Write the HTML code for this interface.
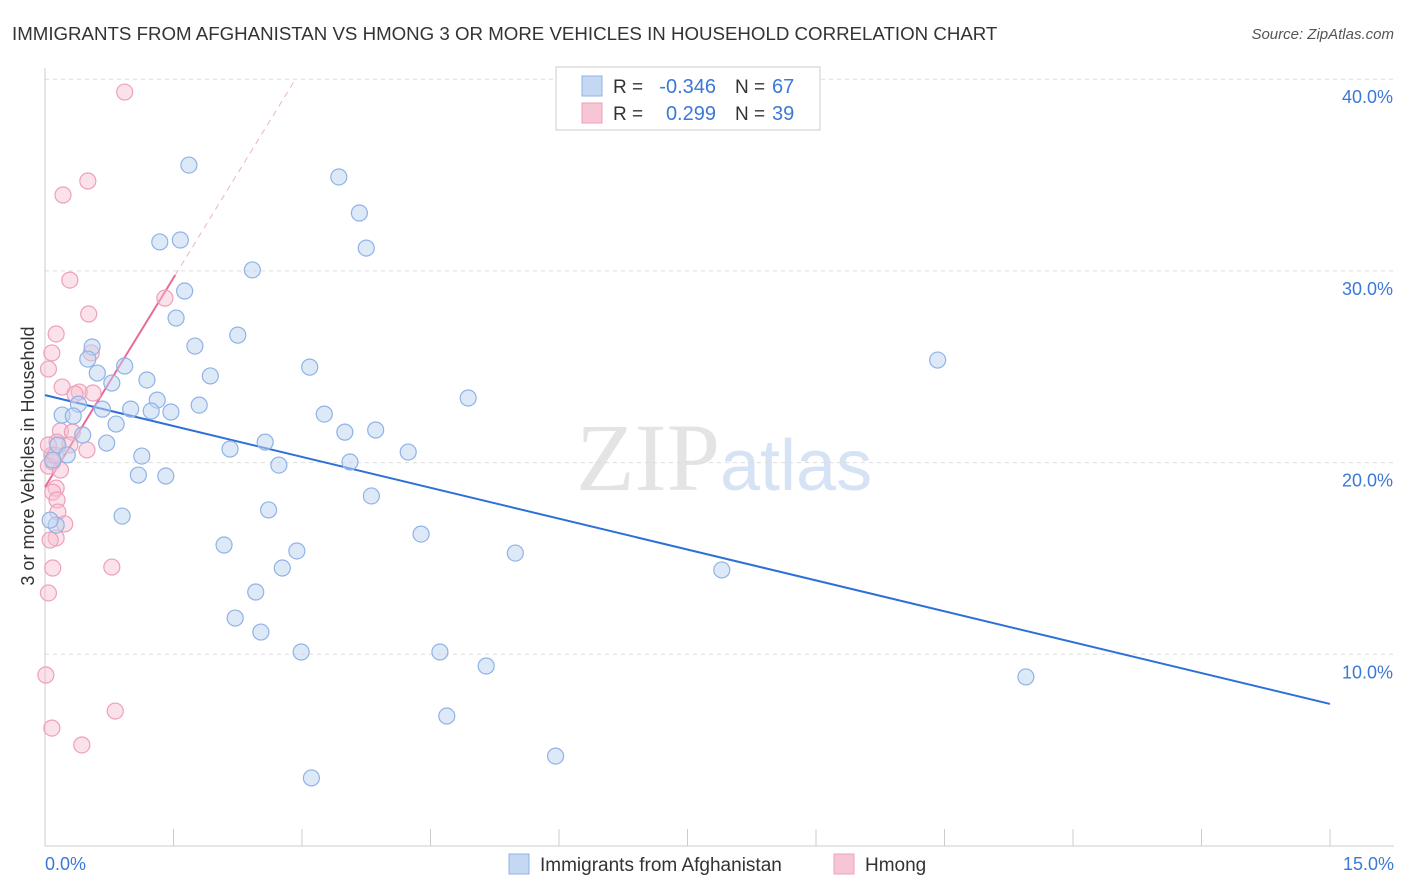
<!DOCTYPE html>
<html><head><meta charset="utf-8"><style>
body{margin:0;background:#fff;font-family:"Liberation Sans",sans-serif;}
svg{display:block}
</style></head><body>
<svg id="chart" width="1406" height="892" xmlns="http://www.w3.org/2000/svg">
<text x="12" y="40" font-size="18.7" fill="#333">IMMIGRANTS FROM AFGHANISTAN VS HMONG 3 OR MORE VEHICLES IN HOUSEHOLD CORRELATION CHART</text>
<text x="1394" y="39" font-size="15" fill="#555" text-anchor="end" font-style="italic">Source: ZipAtlas.com</text>
<text x="720" y="490" font-size="96" fill="#e4e4e4" text-anchor="end" font-family="Liberation Serif">ZIP</text>
<text x="720" y="490" font-size="72" fill="#d6e3f5">atlas</text>
<g id="grid"></g><g id="axes"></g><g id="trends"></g><g id="points"></g>
<text transform="translate(34,456) rotate(-90)" font-size="18" fill="#333" text-anchor="middle">3 or more Vehicles in Household</text>
<text x="45" y="870" font-size="18" fill="#3c78d8">0.0%</text>
<text x="1394" y="870" font-size="18" fill="#3c78d8" text-anchor="end">15.0%</text>
<g>
<rect x="556" y="67" width="264" height="63" fill="#fff" stroke="#ccc"/>
<rect x="582" y="76" width="20" height="20" fill="#c5d8f2" stroke="#8fb3e6"/>
<rect x="582" y="103" width="20" height="20" fill="#f7c6d4" stroke="#eea0b8"/>
<text x="613" y="93" font-size="19" fill="#333">R =</text>
<text x="716" y="93" font-size="20" fill="#3c78d8" text-anchor="end">-0.346</text>
<text x="735" y="93" font-size="19" fill="#333">N =</text>
<text x="772" y="93" font-size="20" fill="#3c78d8">67</text>
<text x="613" y="120" font-size="19" fill="#333">R =</text>
<text x="716" y="120" font-size="20" fill="#3c78d8" text-anchor="end">0.299</text>
<text x="735" y="120" font-size="19" fill="#333">N =</text>
<text x="772" y="120" font-size="20" fill="#3c78d8">39</text>
</g>
<g>
<rect x="509" y="854" width="20" height="20" fill="#c5d8f2" stroke="#8fb3e6"/>
<text x="540" y="871" font-size="19" fill="#333">Immigrants from Afghanistan</text>
<rect x="834" y="854" width="20" height="20" fill="#f7c6d4" stroke="#eea0b8"/>
<text x="865" y="871" font-size="19" fill="#333">Hmong</text>
</g>
</svg>
<script>
const yTicks=[10,20,30,40];
const yTickLabels=["10.0%","20.0%","30.0%","40.0%"];
const xTicks=[0,1.5,3,4.5,6,7.5,9,10.5,12,13.5,15];
const afgX=[1.68,3.43,3.67,3.75,1.34,1.58,2.42,1.63,1.53,2.25,1.75,0.55,0.50,0.93,0.61,1.93,0.78,1.19,3.09,10.42,4.94,1.31,0.39,1.00,0.67,1.80,1.24,1.47,0.20,0.33,3.26,0.83,3.86,3.50,0.44,2.57,0.72,0.15,2.16,4.24,0.26,1.13,0.09,2.73,3.56,1.09,1.41,3.81,0.90,2.61,0.13,4.39,2.09,2.94,5.49,7.90,2.77,2.46,2.22,2.52,2.99,4.61,5.15,11.45,4.69,5.96,3.11,0.06];
const afgY=[35.52,34.90,33.02,31.19,31.51,31.61,30.05,28.95,27.54,26.65,26.08,26.03,25.40,25.04,24.67,24.52,24.15,24.31,24.98,25.35,23.37,23.26,23.05,22.79,22.79,23.00,22.69,22.64,22.48,22.43,22.53,22.01,21.70,21.59,21.44,21.07,21.02,20.92,20.71,20.55,20.40,20.34,20.13,19.87,20.03,19.35,19.30,18.26,17.21,17.53,16.74,16.27,15.70,15.39,15.28,14.40,14.50,13.25,11.89,11.16,10.12,10.12,9.39,8.82,6.78,4.69,3.55,17.00];
const hmX=[0.93,0.50,0.21,0.29,1.40,0.51,0.13,0.08,0.04,0.54,0.20,0.40,0.56,0.35,0.18,0.32,0.14,0.49,0.08,0.09,0.04,0.18,0.13,0.09,0.14,0.15,0.23,0.13,0.09,0.78,0.04,0.01,0.82,0.08,0.43,0.04,0.12,0.06,0.29];
const hmY=[39.33,34.69,33.96,29.52,28.58,27.75,26.71,25.72,24.88,25.72,23.94,23.68,23.63,23.58,21.65,21.59,21.07,20.66,20.39,20.03,19.82,19.61,18.67,18.46,18.05,17.42,16.80,16.07,14.50,14.55,13.20,8.92,7.04,6.15,5.27,20.92,20.39,15.96,20.92];
const afgTrend=[[0,23.52],[15,7.41]];
const hmTrend=[[0,18.72],[1.52,29.78]];
const hmTrendDash=[[1.52,29.78],[2.92,39.98]];
const NS="http://www.w3.org/2000/svg";
const X=v=>45+v/15*1285, Y=v=>846-v/10*191.7;
function mk(t,a,p){const e=document.createElementNS(NS,t);for(const k in a)e.setAttribute(k,a[k]);document.getElementById(p).appendChild(e);return e;}
yTicks.forEach((t,i)=>{
 let l=mk('line',{x1:45,x2:1394,y1:Y(t),y2:Y(t),stroke:'#ddd','stroke-dasharray':'4,4'},'grid');
 
 
 let tx=mk('text',{x:1393,y:Y(t)+24,'font-size':18,fill:'#3c78d8','text-anchor':'end'},'grid');
 tx.textContent=yTickLabels[i];
 
 
});
let ax=mk('line',{x1:45,x2:45,y1:68,y2:846,stroke:'#ccc'},'axes');


let bx=mk('line',{x1:45,x2:1394,y1:846,y2:846,stroke:'#ccc'},'axes');


xTicks.forEach(t=>{let l=mk('line',{x1:X(t),x2:X(t),y1:829,y2:846,stroke:'#ccc'},'axes');
 
 });
function tl(d,c,w,dash,n){let l=mk('line',{x1:X(d[0][0]),y1:Y(d[0][1]),x2:X(d[1][0]),y2:Y(d[1][1]),stroke:c,'stroke-width':w},'trends');
 if(dash)l.setAttribute('stroke-dasharray',dash);
 
 }
tl(afgTrend,'#2f6fd8',2,null,'afghanistan-trend-line');
tl(hmTrend,'#e8689a',2,null,'hmong-trend-line');
tl(hmTrendDash,'#f0b0c8',1,'6,5','hmong-trend-extension');
hmX.forEach((x,i)=>{let c=mk('circle',{cx:X(x),cy:Y(hmY[i]),r:8,fill:'rgba(247,190,208,0.45)',stroke:'#eea0b8','stroke-width':1.2},'points');
 
 });
afgX.forEach((x,i)=>{let c=mk('circle',{cx:X(x),cy:Y(afgY[i]),r:8,fill:'rgba(190,212,242,0.5)',stroke:'#8fb3e6','stroke-width':1.2},'points');
 
 });
</script>
</body></html>
